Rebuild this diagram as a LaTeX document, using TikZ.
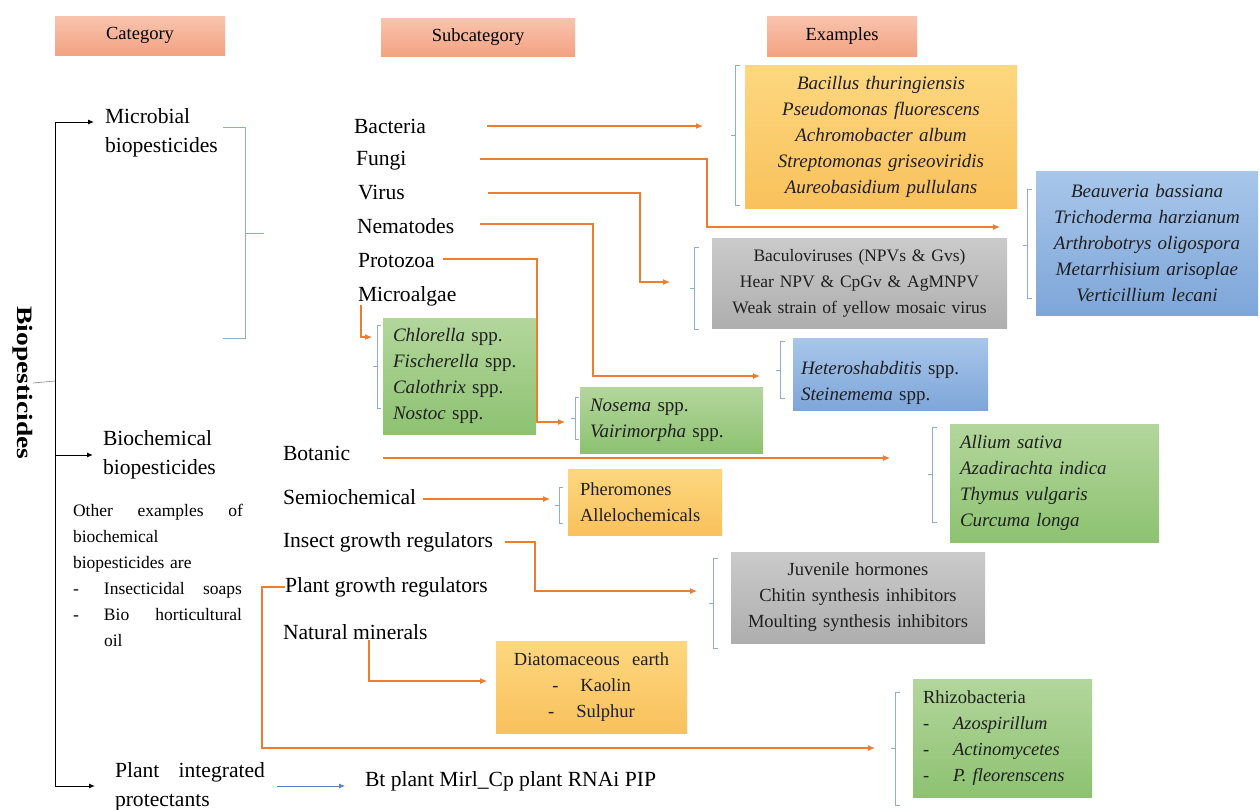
\documentclass[tikz,border=0pt]{standalone}
\usepackage{fontspec}
\setmainfont{Liberation Serif}
\usetikzlibrary{arrows.meta}
\definecolor{arr}{HTML}{ED7D31}
\definecolor{brc}{HTML}{8FAADC}
\definecolor{barrc}{HTML}{5B7FC7}
\definecolor{yelT}{HTML}{FDD77F}
\definecolor{yelB}{HTML}{F9C15C}
\definecolor{bluT}{HTML}{A8C6EA}
\definecolor{bluB}{HTML}{7EA6D9}
\definecolor{grT}{HTML}{CACACA}
\definecolor{grB}{HTML}{AEAEAE}
\definecolor{gnT}{HTML}{B3D69C}
\definecolor{gnB}{HTML}{8DC271}
\definecolor{hdrT}{HTML}{F9C4AE}
\definecolor{hdrB}{HTML}{F3A282}
\newcommand\mainfs{\fontsize{21.6}{29}\selectfont}
\newcommand\boxfs{\fontsize{19}{26}\selectfont}
\newcommand\rgfs{\fontsize{18.5}{26}\selectfont}
\newcommand\vfs{\fontsize{17.5}{26}\selectfont}
\newcommand\smallfs{\fontsize{17.5}{26}\selectfont}
\newcommand\hdrfs{\fontsize{18.5}{20}\selectfont}
\begin{document}
\begin{tikzpicture}[x=1pt,y=-1pt,
  every node/.style={inner sep=0pt, outer sep=0pt},
  lbl/.style={anchor=west, font=\mainfs},
  hdr/.style={rectangle, anchor=north west, top color=hdrT, bottom color=hdrB, font=\hdrfs, align=center},
  exbox/.style={rectangle, anchor=north west, font=\boxfs, text=black!88},
  ybox/.style={exbox, top color=yelT, bottom color=yelB},
  bbox/.style={exbox, top color=bluT, bottom color=bluB},
  grbox/.style={exbox, top color=grT, bottom color=grB},
  gbox/.style={exbox, top color=gnT, bottom color=gnB},
  oarr/.style={draw=arr, line width=1.1pt, -{Latex[length=7pt,width=6pt]}},
  karr/.style={draw=black, line width=1pt, -{Latex[length=6pt,width=5pt]}},
  barr/.style={draw=barrc, line width=0.8pt, -{Latex[length=6pt,width=5pt]}},
  brace/.style={draw=brc, line width=0.8pt},
]
\useasboundingbox[fill=white] (0,0) rectangle (1260,809);

% headers
\node[hdr, minimum width=170pt, minimum height=39pt] (hcat) at (55,16) {Category};
\node[hdr, minimum width=194pt, minimum height=38pt] (hsub) at (381,18) {Subcategory};
\node[hdr, minimum width=150pt, minimum height=40pt] (hex) at (767,16) {Examples};

% left structure
\node[rotate=-90, font=\fontsize{22}{22}\selectfont\bfseries] (bio) at (23,383) {\scalebox{1.25}[1]{Biopesticides}};
\coordinate (s1) at (55,122);
\coordinate (s0) at (55,381);
\coordinate (s2) at (55,455);
\coordinate (s3) at (55,786);
\draw[black, line width=1pt] (s1) -- (s3);
\draw[gray, line width=0.6pt] (bio.north) -- (s0);

\node[anchor=west, font=\mainfs, align=left, inner xsep=11pt] (microbial) at (94,133) {Microbial\\biopesticides};
\node[anchor=west, font=\mainfs, align=left, inner xsep=10pt] (biochem) at (93,455) {Biochemical\\biopesticides};
\node[anchor=west, font=\mainfs, align=left, inner xsep=20pt] (pip) at (95,787) {\makebox[150pt][s]{Plant\hfill integrated}\\protectants};
\draw[karr] (s1) -- (microbial.west |- s1);
\draw[karr] (s2) -- (biochem.west |- s2);
\draw[karr] (s3) -- (pip.west |- s3);

\node[anchor=north west, font=\smallfs, align=left, text width=172pt] (other) at (73,504)
 {\makebox[170pt][l]{Other\hfill examples\hfill of}\\biochemical\\biopesticides are\\
  \makebox[31pt][l]{-}\makebox[138pt][l]{Insecticidal\hfill soaps}\\
  \makebox[31pt][l]{-}\makebox[138pt][l]{Bio\hfill horticultural}\\
  \hspace*{31pt}oil};

% microbial brace
\draw[brace] (223,127) -- (245,127) -- (245,338) -- (223,338);
\draw[brace] (245,233) -- (264,233);

% subcategories
\node[lbl] (bact) at (354,126) {Bacteria};
\node[lbl] (fungi) at (356,161) {Fungi};
\node[lbl] (virus) at (358,193) {Virus};
\node[lbl] (nema) at (357,226) {Nematodes};
\node[lbl] (proto) at (358,261) {Protozoa};
\node[lbl] (micro) at (358,296) {Microalgae};
\node[lbl] (botan) at (283,453) {Botanic};
\node[lbl] (semio) at (283,497) {Semiochemical};
\node[lbl] (igr) at (283,542) {Insect growth regulators};
\node[lbl] (pgr) at (285,587) {Plant growth regulators};
\node[lbl] (natmin) at (283,632) {Natural minerals};
\node[lbl, inner xsep=20pt] (bt) at (345,781) {Bt plant Mirl\_Cp plant RNAi PIP};

% example boxes
\node[ybox, minimum width=272pt, minimum height=143pt, text width=252pt, inner xsep=10pt, align=center] (bacbox) at (745,65)
 {\textit{Bacillus thuringiensis}\\\textit{Pseudomonas fluorescens}\\\textit{Achromobacter album}\\\textit{Streptomonas griseoviridis}\\\textit{Aureobasidium pullulans}};
\node[bbox, minimum width=222pt, minimum height=144pt, text width=206pt, inner xsep=8pt, align=center] (fungbox) at (1036,171)
 {\textit{Beauveria bassiana}\\\textit{Trichoderma harzianum}\\\textit{Arthrobotrys oligospora}\\\textit{Metarrhisium arisoplae}\\\textit{Verticillium lecani}};
\node[grbox, font=\vfs, minimum width=295pt, minimum height=90pt, text width=279pt, inner xsep=8pt, align=center] (virbox) at (712,238)
 {Baculoviruses (NPVs \& Gvs)\\Hear NPV \& CpGv \& AgMNPV\\Weak strain of yellow mosaic virus};
\node[bbox, minimum width=195pt, minimum height=72pt, text width=179pt, inner xsep=8pt, align=left] (nemabox) at (793,338)
 {\rule{0pt}{32pt}\textit{Heteroshabditis} spp.\\\textit{Steinemema} spp.};
\node[gbox, minimum width=149pt, minimum height=116pt, text width=133pt, inner xsep=10pt, align=left] (algbox) at (383,318)
 {\textit{Chlorella} spp.\\\textit{Fischerella} spp.\\\textit{Calothrix} spp.\\\textit{Nostoc} spp.};
\node[gbox, minimum width=179pt, minimum height=66pt, text width=163pt, inner xsep=10pt, align=left] (protbox) at (580,387)
 {\textit{Nosema} spp.\\\textit{Vairimorpha} spp.};
\node[gbox, minimum width=207pt, minimum height=118pt, text width=189pt, inner xsep=10pt, align=left] (botbox) at (950,424)
 {\textit{Allium sativa}\\\textit{Azadirachta indica}\\\textit{Thymus vulgaris}\\\textit{Curcuma longa}};
\node[ybox, font=\rgfs, minimum width=150pt, minimum height=66pt, text width=130pt, inner xsep=12pt, align=left] (semibox) at (568,469)
 {Pheromones\\Allelochemicals};
\node[grbox, font=\rgfs, minimum width=254pt, minimum height=91pt, text width=238pt, inner xsep=8pt, align=center] (igrbox) at (731,552)
 {Juvenile hormones\\Chitin synthesis inhibitors\\Moulting synthesis inhibitors};
\node[ybox, font=\rgfs, minimum width=191pt, minimum height=92pt, text width=175pt, inner xsep=8pt, align=center] (minbox) at (496,641)
 {Diatomaceous\ \ earth\\-\hspace{22pt}Kaolin\\-\hspace{22pt}Sulphur};
\node[gbox, font=\rgfs, minimum width=177pt, minimum height=118pt, text width=159pt, inner xsep=10pt, align=left] (rhizbox) at (913,679)
 {Rhizobacteria\\\makebox[30pt][l]{-}\textit{Azospirillum}\\\makebox[30pt][l]{-}\textit{Actinomycetes}\\\makebox[30pt][l]{-}\textit{P. fleorenscens}};

% braces beside boxes
\draw[brace] (740,65) -- (735,65) -- (735,205) -- (740,205) (735,135) -- (731,135);
\draw[brace] (1032,189) -- (1027,189) -- (1027,298) -- (1032,298) (1027,245) -- (1023,245);
\draw[brace] (699,247) -- (694,247) -- (694,329) -- (699,329) (694,288) -- (690,288);
\draw[brace] (785,341) -- (780,341) -- (780,398) -- (785,398) (780,370) -- (776,370);
\draw[brace] (381,325) -- (377,325) -- (377,408) -- (381,408) (377,366) -- (373,366);
\draw[brace] (579,397) -- (575,397) -- (575,439) -- (579,439) (575,418) -- (571,418);
\draw[brace] (937,427) -- (932,427) -- (932,522) -- (937,522) (932,474) -- (928,474);
\draw[brace] (563,487) -- (559,487) -- (559,523) -- (563,523) (559,505) -- (555,505);
\draw[brace] (718,558) -- (713,558) -- (713,648) -- (718,648) (713,603) -- (709,603);
\draw[brace] (900,692) -- (895,692) -- (895,805) -- (900,805) (895,748) -- (891,748);

% orange connectors
\coordinate (bacS) at (487,126);  \coordinate (bacE) at (703,126);
\coordinate (funS) at (480,159);  \coordinate (funK) at (707,227); \coordinate (funE) at (1000,227);
\coordinate (virS) at (488,193);  \coordinate (virK) at (640,282); \coordinate (virE) at (670,282);
\coordinate (nemS) at (480,224);  \coordinate (nemK) at (593,376); \coordinate (nemE) at (760,376);
\coordinate (proS) at (443,259);  \coordinate (proK) at (537,422); \coordinate (proE) at (565,422);
\coordinate (algS) at (361,305);  \coordinate (algE) at (372,337);
\coordinate (botS) at (383,458);  \coordinate (botE) at (890,458);
\coordinate (semS) at (423,499);  \coordinate (semE) at (550,499);
\coordinate (igrS) at (505,542);  \coordinate (igrK) at (535,591); \coordinate (igrE) at (697,591);
\coordinate (minS) at (369,640);  \coordinate (minE) at (487,681);
\coordinate (pgrK) at (262,587);  \coordinate (pgrE) at (875,748);
\coordinate (btS) at (277,786);

\draw[oarr] (bacS) -- (bacE);
\draw[oarr] (funS) -| (funK) -- (funE);
\draw[oarr] (virS) -| (virK) -- (virE);
\draw[oarr] (nemS) -| (nemK) -- (nemE);
\draw[oarr] (proS) -| (proK) -- (proE);
\draw[oarr] (algS) |- (algE);
\draw[oarr] (botS) -- (botE);
\draw[oarr] (semS) -- (semE);
\draw[oarr] (igrS) -| (igrK) -- (igrE);
\draw[oarr] (minS) |- (minE);
\draw[oarr] (pgr.west) -- (pgrK) |- (pgrE);
\draw[barr] (btS) -- (btS -| bt.west);
\end{tikzpicture}
\end{document}
